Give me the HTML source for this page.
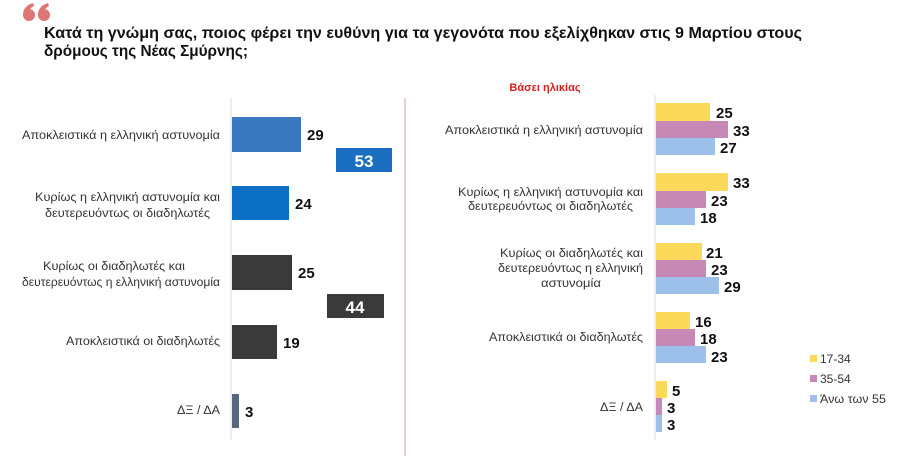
<!DOCTYPE html>
<html><head><meta charset="utf-8"><style>
html,body{margin:0;padding:0;background:#fff;}
svg{display:block;font-family:"Liberation Sans","DejaVu Sans",sans-serif;}
</style></head><body>
<svg width="900" height="456" viewBox="0 0 900 456" xmlns="http://www.w3.org/2000/svg">
<rect width="900" height="456" fill="#fff"/>
<g fill="#e07575">
<circle cx="29" cy="15" r="6"/><path d="M23 15 Q23 6 33 3 L34 6 Q28 9 28 15 Z"/>
<circle cx="44" cy="15" r="6"/><path d="M38 15 Q38 6 48 3 L49 6 Q43 9 43 15 Z"/>
</g>
<text x="44" y="38" font-size="16" font-weight="bold" fill="#111" textLength="758" lengthAdjust="spacingAndGlyphs">Κατά τη γνώμη σας, ποιος φέρει την ευθύνη για τα γεγονότα που εξελίχθηκαν στις 9 Μαρτίου στους</text>
<text x="44" y="56" font-size="16" font-weight="bold" fill="#111" textLength="204" lengthAdjust="spacingAndGlyphs">δρόμους της Νέας Σμύρνης;</text>

<!-- left chart -->
<line x1="231" y1="98" x2="231" y2="440" stroke="#ddd" stroke-width="1"/>
<g font-size="11.5" fill="#333" lengthAdjust="spacingAndGlyphs">
<text x="22" y="139" textLength="198" lengthAdjust="spacingAndGlyphs">Αποκλειστικά η ελληνική αστυνομία</text>
<text x="35" y="201" textLength="185" lengthAdjust="spacingAndGlyphs">Κυρίως η ελληνική αστυνομία και</text>
<text x="45" y="217" textLength="165" lengthAdjust="spacingAndGlyphs">δευτερευόντως οι διαδηλωτές</text>
<text x="43" y="270" textLength="142" lengthAdjust="spacingAndGlyphs">Κυρίως οι διαδηλωτές και</text>
<text x="22" y="286" textLength="198" lengthAdjust="spacingAndGlyphs">δευτερευόντως η ελληνική αστυνομία</text>
<text x="66" y="345" textLength="154" lengthAdjust="spacingAndGlyphs">Αποκλειστικά οι διαδηλωτές</text>
<text x="177" y="414" textLength="43" lengthAdjust="spacingAndGlyphs">ΔΞ / ΔΑ</text>
</g>
<rect x="232" y="117" width="69" height="35" fill="#3a78c0"/>
<rect x="232" y="186" width="57" height="34" fill="#0b6fc6"/>
<rect x="232" y="255" width="60" height="35" fill="#3b3a3a"/>
<rect x="232" y="325" width="45" height="34" fill="#3b3a3a"/>
<rect x="232" y="394" width="7" height="34" fill="#56687e"/>
<g font-size="15" font-weight="bold" fill="#111">
<text x="307" y="140">29</text>
<text x="295" y="209">24</text>
<text x="298" y="278">25</text>
<text x="283" y="348">19</text>
<text x="245" y="417">3</text>
</g>
<rect x="336" y="148" width="56" height="24" fill="#1a6fc0"/>
<text x="364" y="167" font-size="17" font-weight="bold" fill="#fff" text-anchor="middle">53</text>
<rect x="327" y="294" width="57" height="24" fill="#3b3a3a"/>
<text x="355" y="313" font-size="17" font-weight="bold" fill="#fff" text-anchor="middle">44</text>

<line x1="405" y1="98" x2="405" y2="456" stroke="#d9a0a0" stroke-width="1"/>

<!-- right chart -->
<text x="545" y="91" font-size="11" font-weight="bold" fill="#d42020" text-anchor="middle">Βάσει ηλικίας</text>
<line x1="655" y1="95" x2="655" y2="440" stroke="#ddd" stroke-width="1"/>
<g font-size="11.5" fill="#333">
<text x="445" y="134" textLength="198" lengthAdjust="spacingAndGlyphs">Αποκλειστικά η ελληνική αστυνομία</text>
<text x="458" y="196" textLength="185" lengthAdjust="spacingAndGlyphs">Κυρίως η ελληνική αστυνομία και</text>
<text x="468" y="210" textLength="165" lengthAdjust="spacingAndGlyphs">δευτερευόντως οι διαδηλωτές</text>
<text x="500" y="257" textLength="143" lengthAdjust="spacingAndGlyphs">Κυρίως οι διαδηλωτές και</text>
<text x="498" y="272" textLength="145" lengthAdjust="spacingAndGlyphs">δευτερευόντως η ελληνική</text>
<text x="541" y="287" textLength="60" lengthAdjust="spacingAndGlyphs">αστυνομία</text>
<text x="489" y="341" textLength="154" lengthAdjust="spacingAndGlyphs">Αποκλειστικά οι διαδηλωτές</text>
<text x="600" y="411" textLength="43" lengthAdjust="spacingAndGlyphs">ΔΞ / ΔΑ</text>
</g>
<g>
<rect x="656" y="103" width="54" height="18" fill="#fcd95a"/>
<rect x="656" y="121" width="72" height="17" fill="#c688b5"/>
<rect x="656" y="138" width="59" height="17" fill="#9dc0ea"/>
<rect x="656" y="173" width="72" height="18" fill="#fcd95a"/>
<rect x="656" y="191" width="50" height="17" fill="#c688b5"/>
<rect x="656" y="208" width="39" height="17" fill="#9dc0ea"/>
<rect x="656" y="243" width="46" height="17" fill="#fcd95a"/>
<rect x="656" y="260" width="50" height="17" fill="#c688b5"/>
<rect x="656" y="277" width="63" height="17" fill="#9dc0ea"/>
<rect x="656" y="312" width="34" height="17" fill="#fcd95a"/>
<rect x="656" y="329" width="39" height="17" fill="#c688b5"/>
<rect x="656" y="346" width="50" height="17" fill="#9dc0ea"/>
<rect x="656" y="381" width="11" height="17" fill="#fcd95a"/>
<rect x="656" y="398" width="6" height="17" fill="#c688b5"/>
<rect x="656" y="415" width="6" height="17" fill="#9dc0ea"/>
</g>
<g font-size="15" font-weight="bold" fill="#111">
<text x="716" y="118">25</text>
<text x="733" y="136">33</text>
<text x="720" y="153">27</text>
<text x="733" y="188">33</text>
<text x="711" y="206">23</text>
<text x="700" y="223">18</text>
<text x="706" y="258">21</text>
<text x="711" y="275">23</text>
<text x="724" y="292">29</text>
<text x="695" y="327">16</text>
<text x="700" y="344">18</text>
<text x="711" y="362">23</text>
<text x="672" y="396">5</text>
<text x="667" y="413">3</text>
<text x="667" y="430">3</text>
</g>
<rect x="810" y="355" width="7" height="7" fill="#fcd95a"/>
<rect x="810" y="375" width="7" height="7" fill="#c688b5"/>
<rect x="810" y="395" width="7" height="7" fill="#9dc0ea"/>
<g font-size="12" fill="#333">
<text x="820" y="363">17-34</text>
<text x="820" y="383">35-54</text>
<text x="820" y="403" textLength="66" lengthAdjust="spacingAndGlyphs">Άνω των 55</text>
</g>
</svg>
</body></html>
